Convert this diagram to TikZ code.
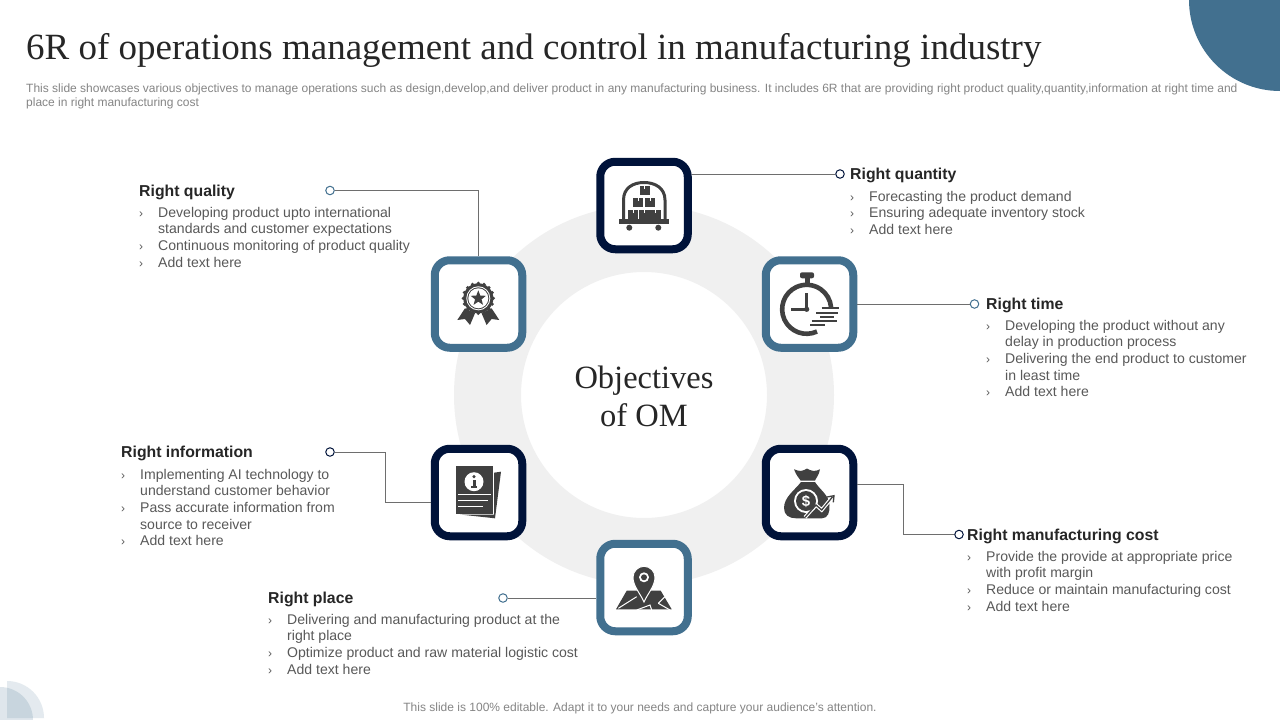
\documentclass[tikz,border=0pt]{standalone}
\usepackage{fontspec}
\setmainfont{Liberation Sans}
\newfontfamily\titlefont{Liberation Serif}
\usepackage{tikz}
\definecolor{navy}{HTML}{00133A}
\definecolor{steel}{HTML}{42708F}
\definecolor{ring}{HTML}{F0F0F0}
\definecolor{icon}{HTML}{404040}
\definecolor{body}{HTML}{595959}
\definecolor{head}{HTML}{262626}
\definecolor{note}{HTML}{858585}
\definecolor{wire}{HTML}{6E6E6E}
\newcommand{\bul}{\makebox[0pt][r]{\makebox[19pt][l]{\fontsize{12}{12}\selectfont ›}}}
\tikzstyle{navybox} = [rectangle, rounded corners=15pt, minimum width=87.5pt, minimum height=87.5pt, line width=8pt, draw=navy, fill=white]
\tikzstyle{steelbox} = [rectangle, rounded corners=15pt, minimum width=87.5pt, minimum height=87.5pt, line width=8pt, draw=steel, fill=white]
\tikzstyle{navydot} = [circle, minimum size=8.5pt, inner sep=0pt, line width=1pt, draw=navy, fill=white]
\tikzstyle{steeldot} = [circle, minimum size=8.5pt, inner sep=0pt, line width=1pt, draw=steel, fill=white]
\tikzstyle{link} = [line width=0.8pt, draw=wire]
\tikzstyle{heading} = [anchor=west, inner sep=0pt, text=head, font=\fontsize{15.8}{18}\selectfont\bfseries]
\tikzstyle{bullets} = [anchor=north west, inner sep=0pt, align=left, text=body, font=\fontsize{14.06}{16.6}\selectfont]
\tikzstyle{wipe} = [white, line width=1pt]
\begin{document}
\begin{tikzpicture}[x=1pt,y=-1pt]
\useasboundingbox (0,0) rectangle (1280,720);
\fill[white] (0,0) rectangle (1280,720);
\fill[steel] (1280,0) -- (1189,0) arc[start angle=180,end angle=90,radius=91] -- cycle;
\fill[steel,opacity=0.17] (0,720) -- (0,687) arc[start angle=270,end angle=360,radius=33] -- cycle;
\fill[steel,opacity=0.14] (7,718) -- (7,681) arc[start angle=270,end angle=360,radius=37] -- cycle;

\node(title)[anchor=west,inner sep=0pt,text=head,font=\fontsize{37}{42}\selectfont\titlefont] at (26,50.5) {6R of operations management and control in manufacturing industry};
\node(intro)[anchor=north west,inner sep=0pt,align=left,text=note,font=\fontsize{12}{14}\selectfont] at (26,84) {This slide showcases various objectives to manage operations such as design,develop,and deliver product in any manufacturing business. It includes 6R that are providing right product quality,quantity,information at right time and\\place in right manufacturing cost};
\node(foot)[inner sep=0pt,text=note,font=\fontsize{12}{14}\selectfont] at (640,708) {This slide is 100\% editable. Adapt it to your needs and capture your audience's attention.};

\fill[ring,even odd rule] (644,395) circle (190) (644,395) circle (123);
\node(center)[align=center,inner sep=0pt,text=head,font=\fontsize{32.5}{38}\selectfont\titlefont] at (644,396) {Objectives\\of OM};

\node(box1)[navybox] at (644,205.5) {};
\node(box2)[steelbox] at (809.5,304) {};
\node(box3)[navybox] at (809.5,492.5) {};
\node(box4)[steelbox] at (644,587.5) {};
\node(box5)[navybox] at (478.5,492.5) {};
\node(box6)[steelbox] at (478.5,304) {};

\node(dot1)[navydot] at (840,174) {};
\node(dot2)[steeldot] at (974.5,304) {};
\node(dot3)[navydot] at (959,534.5) {};
\node(dot4)[steeldot] at (503,598) {};
\node(dot5)[navydot] at (330,452) {};
\node(dot6)[steeldot] at (330,190.5) {};

\draw[link] (box1.east |- dot1) -- (dot1);
\draw[link] (box2) -- (dot2);
\draw[link] (box3.east |- 0,484.5) -- (903,484.5) |- (dot3);
\draw[link] (dot4) -- (box4.west |- dot4);
\draw[link] (dot5) -- (385.5,452) |- (box5.west |- 0,502);
\draw[link] (dot6) -| (box6.north);

\node(head1)[heading] at (850,175) {Right quantity};
\node(text1)[bullets] at (869,191) {\bul Forecasting the product demand\\\bul Ensuring adequate inventory stock\\\bul Add text here};
\node(head2)[heading] at (986,305) {Right time};
\node(text2)[bullets] at (1005,320) {\bul Developing the product without any\\delay in production process\\\bul Delivering the end product to customer\\in least time\\\bul Add text here};
\node(head3)[heading] at (967,536) {Right manufacturing cost};
\node(text3)[bullets] at (986,551) {\bul Provide the provide at appropriate price\\with profit margin\\\bul Reduce or maintain manufacturing cost\\\bul Add text here};
\node(head4)[heading] at (268,599) {Right place};
\node(text4)[bullets] at (287,614) {\bul Delivering and manufacturing product at the\\right place\\\bul Optimize product and raw material logistic cost\\\bul Add text here};
\node(head5)[heading] at (121,453) {Right information};
\node(text5)[bullets] at (140,469) {\bul Implementing AI technology to\\understand customer behavior\\\bul Pass accurate information from\\source to receiver\\\bul Add text here};
\node(head6)[heading] at (139,192) {Right quality};
\node(text6)[bullets] at (158,207) {\bul Developing product upto international\\standards and customer expectations\\\bul Continuous monitoring of product quality\\\bul Add text here};

\begin{scope}[icon]
\fill (619,219) rectangle (669,223.7);
\fill (629.3,227.7) circle (3) (658.3,227.7) circle (3);
\draw[line width=3pt] (623.5,219) -- (623.5,200) .. controls (623.5,188) and (633,182.5) .. (644,182.5) .. controls (655,182.5) and (665,188) .. (665,200) -- (665,219);
\fill (639.5,186) rectangle (649.5,195);
\fill (633.3,198.3) rectangle (643.3,207.3);
\fill (645,198.3) rectangle (655,207.3);
\fill (627.7,210) rectangle (638.2,219);
\fill (639,210) rectangle (649.5,219);
\fill (650.3,210) rectangle (660.8,219);
\end{scope}
\draw[wipe] (644.5,186) -- (644.5,189) (638.3,198.3) -- (638.3,201) (650,198.3) -- (650,201) (633,210) -- (633,213) (644.3,210) -- (644.3,213) (655.5,210) -- (655.5,213);

\begin{scope}[icon]
\fill[rounded corners=2pt] (800,272.3) rectangle (814,278.3);
\fill (805,278) rectangle (810,284);
\draw[line width=4.6pt] (817,331.5) arc[start angle=65,end angle=355,radius=24.5];
\draw[line width=2.6pt] (806.7,293.3) -- (806.7,309.3) -- (790.7,309.3);
\fill (806.7,309.3) circle (2.6);
\draw[line width=1.8pt] (821.7,308.3) -- (839.3,308.3) (816,312.7) -- (838.3,312.7) (820,316.7) -- (834,316.7) (811.7,320.7) -- (836.7,320.7) (810,324.7) -- (825,324.7);
\end{scope}

\begin{scope}[icon]
\fill (794,469.3) .. controls (800,472) and (803,471) .. (807,468.5) .. controls (811,471) and (815,472) .. (820,469.3) .. controls (819,475) and (816,478) .. (815,480.7) -- (800.7,480.7) .. controls (799,478) and (796,475) .. (794,469.3) -- cycle;
\fill (801,482) .. controls (795,490) and (784,497) .. (784,508) .. controls (784,515) and (789,518.3) .. (796,518.3) -- (822,518.3) .. controls (828,518.3) and (830,512) .. (829.5,505) .. controls (829,495) and (820,490) .. (815,482) -- cycle;
\draw[white,line width=3.6pt] (805,517.3) -- (816,505) -- (821.7,510) -- (832.7,496.7);
\fill[white] (806,501) circle (12);
\fill (806,501) circle (10);
\node(dollar)[inner sep=0pt,text=white,font=\fontsize{15}{15}\selectfont\bfseries] at (806,501) {\$};
\draw[line width=1.3pt] (805,517.3) -- (816,505) -- (821.7,510) -- (832.7,496.7);
\draw[line width=1.3pt] (827,497) -- (834,495.7) -- (833.3,502.3);
\end{scope}

\begin{scope}[icon]
\fill (626.7,590.7) -- (660.7,590.7) -- (671.7,609.3) -- (616,609.3) -- cycle;
\draw[wipe] (618.3,608.3) -- (636.7,596.7) (636.7,610) -- (650,605) -- (651.7,610) (658.3,603.3) -- (670,610) (665,596.7) -- (658.3,603.3);
\fill[draw=white,line width=1pt] (644,602) .. controls (640,593) and (633,586) .. (633,577.3) arc[start angle=180,end angle=360,radius=11] .. controls (655,586) and (648,593) .. (644,602) -- cycle;
\fill[white] (644,577.3) circle (5);
\fill (644,577.3) circle (3);
\end{scope}

\begin{scope}[icon]
\fill (494,472.7) -- (501,471.7) -- (495,518.3) -- (460,514.5) -- (494,514.5) -- cycle;
\fill (456,466) rectangle (492.7,514);
\fill[white] (474,481.7) circle (9.5);
\fill (474,476.6) circle (1.7);
\fill (472.5,479.5) rectangle (475.5,487.5);
\fill (471.3,486) rectangle (476.7,487.8);
\end{scope}
\draw[wipe] (458.3,494.3) -- (491,494.3) (458.3,500.7) -- (488.3,500.7) (458.3,506.7) -- (483.3,506.7);

\begin{scope}[icon,shift={(478.3,298.3)}]
\fill (0,0) circle (15);
\foreach \a in {0,22.5,...,337.5} \fill (\a:15) circle (1.8);
\fill[white] (0,0) circle (12);
\fill (0,0) circle (11);
\fill[white] (0,0) circle (10);
\fill (-90:8) -- (-54:3.4) -- (-18:8) -- (18:3.4) -- (54:8) -- (90:3.4) -- (126:8) -- (162:3.4) -- (198:8) -- (234:3.4) -- cycle;
\fill (-13.3,10) -- (-21,21.7) -- (-13.3,20.7) -- (-8.3,26.7) -- (-3.3,15) -- cycle;
\fill (13.3,10) -- (21,21.7) -- (13.3,20.7) -- (8.3,26.7) -- (3.3,15) -- cycle;
\end{scope}
\end{tikzpicture}
\end{document}
